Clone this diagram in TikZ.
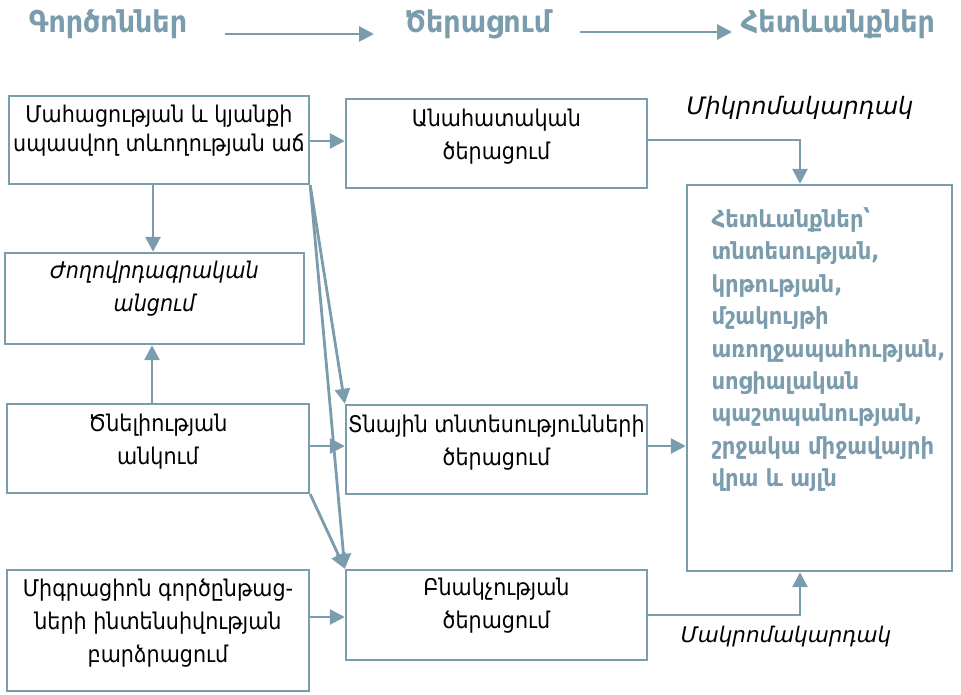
\documentclass[tikz,border=0pt]{standalone}
\usepackage{fontspec}
\setmainfont{DejaVu Sans}
\newfontfamily\condfont{DejaVu Sans Condensed}
\usetikzlibrary{arrows.meta}
\definecolor{steel}{HTML}{7B9CAD}
\tikzset{
  box/.style={draw=steel, line width=2.4pt, rectangle, inner sep=0pt},
  boxtext/.style={align=center, font=\condfont\fontsize{23}{33}\selectfont, text=black},
  arr/.style={draw=steel, line width=2.8pt, -{Triangle[length=15pt,width=15pt]}},
  head/.style={font=\condfont\bfseries\fontsize{30}{34}\selectfont, text=steel},
  lvl/.style={font=\itshape\fontsize{24}{28}\selectfont, text=black}
}
\begin{document}
\begin{tikzpicture}[x=1pt,y=-1pt]
\useasboundingbox (0,0) rectangle (961,694);
% headers
\node[head] (h1) at (108,24) {Գործոններ};
\node[head] (h2) at (478,24) {Ծերացում};
\node[head] (h3) at (838,24) {Հետևանքներ};
\coordinate (h1e) at (225,34);
\coordinate (h2s) at (374,34);
\coordinate (h2e) at (580,32);
\coordinate (h3s) at (732,32);
\draw[arr] (h1e) -- (h2s);
\draw[arr] (h2e) -- (h3s);
% boxes
\node[box, minimum width=300pt, minimum height=88pt] (A) at (159,140) {};
\node[box, minimum width=301pt, minimum height=89pt] (B) at (496.5,143.5) {};
\node[box, minimum width=299pt, minimum height=91pt] (C) at (154.5,298.5) {};
\node[box, minimum width=302pt, minimum height=89pt] (D) at (158,448.5) {};
\node[box, minimum width=301pt, minimum height=89pt] (E) at (496.5,449.5) {};
\node[box, minimum width=302pt, minimum height=121pt] (F) at (158,630.5) {};
\node[box, minimum width=301pt, minimum height=90pt] (G) at (496.5,615) {};
\node[box, minimum width=265pt, minimum height=386pt] (H) at (819.5,378) {};
% texts
\node[boxtext, font=\condfont\fontsize{23}{29}\selectfont] (At) at (159,131) {Մահացության և կյանքի\\սպասվող տևողության աճ};
\node[boxtext] (Bt) at (496.5,136.5) {Անահատական\\ծերացում};
\node[boxtext] (Ct) at (154.5,289) {\itshape Ժողովրդագրական\\\itshape անցում};
\node[boxtext] (Dt) at (158,442) {Ծնելիության\\անկում};
\node[boxtext] (Et) at (496.5,442.5) {Տնային տնտեսությունների\\ծերացում};
\node[boxtext] (Ft) at (158,623) {Միգրացիոն գործընթաց-\\ների ինտենսիվության\\բարձրացում};
\node[boxtext] (Gt) at (496.5,606) {Բնակչության\\ծերացում};
\node[anchor=north west, align=left, text=steel, font=\condfont\bfseries\fontsize{23.5}{32.4}\selectfont] (Ht) at (708,204)
 {Հետևանքներ՝\\տնտեսության,\\կրթության,\\մշակույթի\\առողջապահության,\\սոցիալական\\պաշտպանության,\\շրջակա միջավայրի\\վրա և այլն};
\node[lvl] (micro) at (800,108) {Միկրոմակարդակ};
\node[lvl, font=\itshape\fontsize{21.5}{26}\selectfont] (macro) at (786,637) {Մակրոմակարդակ};
% connectors
\draw[arr] (A.east |- 0,141) -- (B.west |- 0,141);
\draw[arr] (A.south -| 153,0) -- (C.north -| 153,0);
\draw[arr] (D.north -| 152,0) -- (C.south -| 152,0);
\draw[arr] (D.east |- 0,446) -- (E.west |- 0,446);
\draw[arr] (F.east |- 0,617) -- (G.west |- 0,617);
\draw[arr] (E.east |- 0,446) -- (H.west |- 0,446);
\draw[arr] (B.east |- 0,140) -| (H.north -| 800,0);
\draw[arr] (G.east |- 0,615) -| (H.south -| 800,0);
\draw[arr] (A.south east) -- (E.north west);
\draw[arr] (A.south east) -- (G.north west);
\draw[arr] (D.south east) -- (G.north west);
\end{tikzpicture}
\end{document}
